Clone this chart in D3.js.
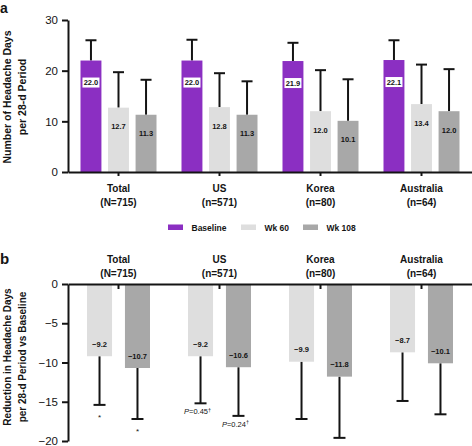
<!DOCTYPE html>
<html><head><meta charset="utf-8">
<script src="https://cdn.jsdelivr.net/npm/d3@7/dist/d3.min.js"></script>
<style>
html,body{margin:0;padding:0;background:#fff;}
svg{display:block;font-family:"Liberation Sans",Arial,sans-serif;}
</style></head>
<body>
<svg id="chart" width="472" height="446"></svg>
<script>
// ---- data ----
const categories = ["Total", "US", "Korea", "Australia"];
const categoryN = ["(N=715)", "(n=571)", "(n=80)", "(n=64)"];
const seriesA = ["Baseline", "Wk 60", "Wk 108"];
const seriesB = ["Wk 60", "Wk 108"];
// Panel a: mean headache days per 28-d period
const baselineDays = [22.0, 22.0, 21.9, 22.1];
const wk60Days = [12.7, 12.8, 12.0, 13.4];
const wk108Days = [11.3, 11.3, 10.1, 12.0];
// upper error bar ends (mean + SD)
const baselineHigh = [26.0, 26.1, 25.5, 26.0];
const wk60High = [19.7, 19.5, 20.1, 21.2];
const wk108High = [18.2, 17.9, 18.3, 20.3];
// Panel b: reduction vs baseline
const wk60Reduction = [-9.2, -9.2, -9.9, -8.7];
const wk108Reduction = [-10.7, -10.6, -11.8, -10.1];
const wk60Low = [-15.4, -15.2, -17.2, -14.9];
const wk108Low = [-17.2, -16.8, -19.6, -16.6];
const wk60Notes = ["*", "P=0.45†", "", ""];
const wk108Notes = ["*", "P=0.24†", "", ""];
const ticksA = [0, 10, 20, 30];
const ticksB = [0, -5, -10, -15, -20];

const colors = {"Baseline": "#8b2fc2", "Wk 60": "#dedede", "Wk 108": "#a8a8a8"};
const ink = "#141414";

const svg = d3.select("#chart");
svg.append("rect").attr("width", 472).attr("height", 446).attr("fill", "#fff");

const axisX = 68;
const x = d3.scaleBand().domain(categories).range([axisX, 472]);
const cx = c => x(c) + x.bandwidth() / 2;

// ================= Panel a =================
const yA = d3.scaleLinear().domain([0, 30]).range([172, 20]);
const xA = d3.scaleBand().domain(seriesA).range([-38, 38]).paddingInner(0.24);

const gA = svg.append("g");
const dataA = [];
categories.forEach((c, i) => {
  dataA.push({c, s: "Baseline", v: baselineDays[i], hi: baselineHigh[i]});
  dataA.push({c, s: "Wk 60", v: wk60Days[i], hi: wk60High[i]});
  dataA.push({c, s: "Wk 108", v: wk108Days[i], hi: wk108High[i]});
});

const eA = gA.append("g").attr("stroke", ink).attr("stroke-width", 2);
dataA.forEach(d => {
  const xm = cx(d.c) + xA(d.s) + xA.bandwidth() / 2;
  eA.append("line").attr("x1", xm).attr("x2", xm).attr("y1", yA(d.v)).attr("y2", yA(d.hi));
  eA.append("line").attr("x1", xm - 5.5).attr("x2", xm + 5.5).attr("y1", yA(d.hi)).attr("y2", yA(d.hi));
});

gA.append("g").selectAll("rect").data(dataA).join("rect")
  .attr("x", d => cx(d.c) + xA(d.s))
  .attr("width", xA.bandwidth())
  .attr("y", d => yA(d.v))
  .attr("height", d => yA(0) - yA(d.v))
  .attr("fill", d => colors[d.s]);

dataA.forEach(d => {
  const xm = cx(d.c) + xA(d.s) + xA.bandwidth() / 2;
  const yc = yA(d.v) + (d.s === "Baseline" ? 22 : 19);
  if (d.s === "Baseline") {
    gA.append("rect").attr("x", xm - 8.5).attr("y", yc - 5).attr("width", 17).attr("height", 10).attr("fill", "#fff");
  }
  gA.append("text").attr("x", xm).attr("y", yc).attr("dy", "0.35em")
    .attr("text-anchor", "middle").attr("font-size", "7.5px").attr("font-weight", "bold")
    .attr("fill", ink).text(d3.format(".1f")(d.v));
});

gA.append("g").attr("transform", `translate(${axisX},0)`)
  .call(d3.axisLeft(yA).tickValues(ticksA).tickSize(6).tickSizeOuter(0).tickPadding(4));
gA.append("g").attr("transform", `translate(0,${yA(0)})`)
  .call(d3.axisBottom(x).tickSize(4).tickSizeOuter(0).tickFormat(""));

categories.forEach((c, i) => {
  const t = gA.append("text").attr("x", cx(c)).attr("text-anchor", "middle")
    .attr("font-size", "10px").attr("font-weight", "bold").attr("fill", ink);
  t.append("tspan").attr("x", cx(c)).attr("y", 192).text(c);
  t.append("tspan").attr("x", cx(c)).attr("y", 205.5).text(categoryN[i]);
});

const ylA = gA.append("text").attr("transform", "translate(0,97) rotate(-90)")
  .attr("text-anchor", "middle").attr("font-size", "10.5px").attr("font-weight", "bold").attr("fill", ink);
ylA.append("tspan").attr("x", 0).attr("y", 7).attr("dominant-baseline", "central").text("Number of Headache Days");
ylA.append("tspan").attr("x", 0).attr("y", 22).attr("dominant-baseline", "central").text("per 28-d Period");

svg.append("text").attr("x", 0).attr("y", 13).attr("font-size", "14px").attr("font-weight", "bold").attr("fill", ink).text("a");

const legendX = [168, 241, 303];
seriesA.forEach((s, i) => {
  svg.append("rect").attr("x", legendX[i]).attr("y", 224.5).attr("width", 15).attr("height", 5.5).attr("fill", colors[s]);
  svg.append("text").attr("x", legendX[i] + 23.5).attr("y", 230.5).attr("font-size", "8.5px")
    .attr("font-weight", "bold").attr("fill", ink).text(s);
});

// ================= Panel b =================
const yB = d3.scaleLinear().domain([-20, 0]).range([441, 284]);
const xB = d3.scaleBand().domain(seriesB).range([-31.5, 31.5]).paddingInner(0.34);
const gB = svg.append("g");
const dataB = [];
categories.forEach((c, i) => {
  dataB.push({c, s: "Wk 60", v: wk60Reduction[i], lo: wk60Low[i], note: wk60Notes[i]});
  dataB.push({c, s: "Wk 108", v: wk108Reduction[i], lo: wk108Low[i], note: wk108Notes[i]});
});

const eB = gB.append("g").attr("stroke", ink).attr("stroke-width", 2);
dataB.forEach(d => {
  const xm = cx(d.c) + xB(d.s) + xB.bandwidth() / 2;
  eB.append("line").attr("x1", xm).attr("x2", xm).attr("y1", yB(d.v)).attr("y2", yB(d.lo));
  eB.append("line").attr("x1", xm - 6).attr("x2", xm + 6).attr("y1", yB(d.lo)).attr("y2", yB(d.lo));
});

gB.append("g").selectAll("rect").data(dataB).join("rect")
  .attr("x", d => cx(d.c) + xB(d.s))
  .attr("width", xB.bandwidth())
  .attr("y", yB(0))
  .attr("height", d => yB(d.v) - yB(0))
  .attr("fill", d => colors[d.s]);

dataB.forEach(d => {
  const xm = cx(d.c) + xB(d.s) + xB.bandwidth() / 2;
  gB.append("text").attr("x", xm).attr("y", yB(d.v) - 12).attr("dy", "0.35em")
    .attr("text-anchor", "middle").attr("font-size", "7.5px").attr("font-weight", "bold")
    .attr("fill", ink).text(d3.format(".1f")(d.v));
  if (d.note === "*") {
    gB.append("text").attr("x", xm).attr("y", yB(d.lo) + 15).attr("text-anchor", "middle")
      .attr("font-size", "8px").attr("fill", ink).text("*");
  } else if (d.note) {
    const m = d.note.match(/^P(=[\d.]+)(†)$/);
    const t = gB.append("text").attr("x", xm - 3).attr("y", yB(d.lo) + 11).attr("text-anchor", "middle")
      .attr("font-size", "7.5px").attr("fill", ink);
    t.append("tspan").attr("font-style", "italic").text("P");
    t.append("tspan").text(m[1]);
    t.append("tspan").attr("font-size", "5.5px").attr("dy", "-2.5").text(m[2]);
  }
});

gB.append("g").attr("transform", `translate(${axisX},0)`)
  .call(d3.axisLeft(yB).tickValues(ticksB).tickSize(6).tickSizeOuter(0).tickPadding(4));
gB.append("g").attr("transform", `translate(0,${yB(0)})`)
  .call(d3.axisBottom(x).tickSize(5).tickSizeOuter(0).tickFormat(""));

categories.forEach((c, i) => {
  const t = gB.append("text").attr("x", cx(c)).attr("text-anchor", "middle")
    .attr("font-size", "10px").attr("font-weight", "bold").attr("fill", ink);
  t.append("tspan").attr("x", cx(c)).attr("y", 263).text(c);
  t.append("tspan").attr("x", cx(c)).attr("y", 276.5).text(categoryN[i]);
});

const ylB = gB.append("text").attr("transform", "translate(0,357) rotate(-90)")
  .attr("text-anchor", "middle").attr("font-size", "10px").attr("font-weight", "bold").attr("fill", ink);
ylB.append("tspan").attr("x", 0).attr("y", 7).attr("dominant-baseline", "central").text("Reduction in Headache Days");
ylB.append("tspan").attr("x", 0).attr("y", 22).attr("dominant-baseline", "central").text("per 28-d Period vs Baseline");

svg.append("text").attr("x", 0).attr("y", 264).attr("font-size", "15px").attr("font-weight", "bold").attr("fill", ink).text("b");

svg.selectAll(".domain").attr("stroke", ink).attr("stroke-width", 2);
svg.selectAll(".tick line").attr("stroke", ink).attr("stroke-width", 2);
svg.selectAll(".tick text").attr("font-size", "11.5px").attr("fill", ink)
  .attr("font-family", "'Liberation Sans',Arial,sans-serif");
</script>
</body></html>
